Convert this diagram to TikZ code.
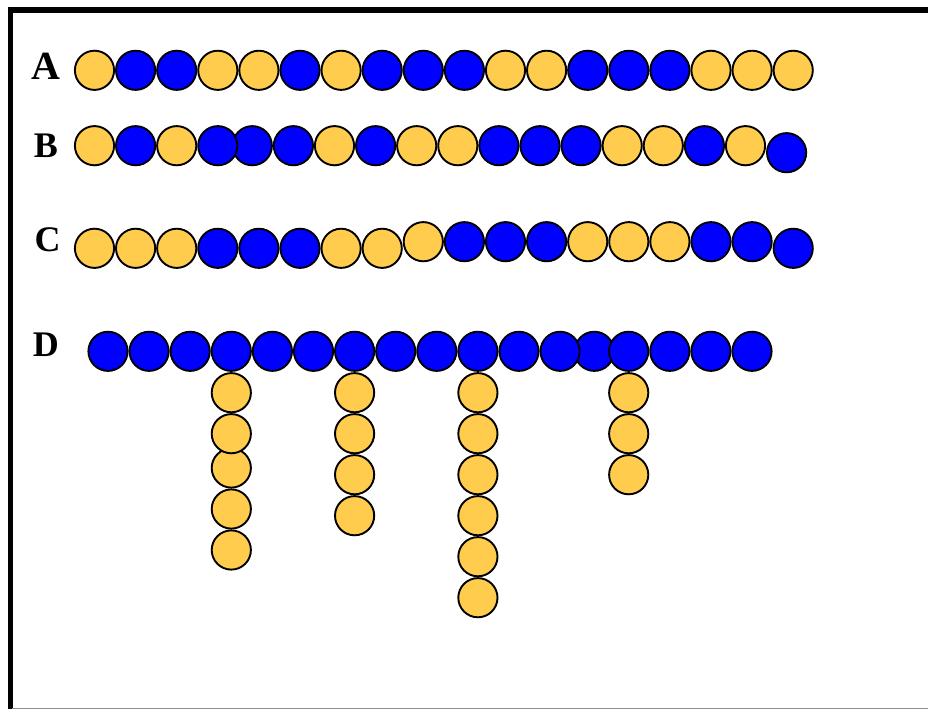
\documentclass[tikz,border=0pt]{standalone}
\usepackage{fontspec}
\setmainfont{Liberation Serif}
\usepackage{xcolor}
\usepackage{tikz}
\usetikzlibrary{positioning}
\definecolor{beady}{HTML}{FFCC4D}
\definecolor{beadb}{HTML}{0000FF}
\definecolor{edgegray}{HTML}{8C8C8C}

\begin{document}
\begin{tikzpicture}[x=1pt, y=-1pt,
  bead/.style={circle, draw=black, line width=1.9pt, fill=bead#1,
               minimum size=39.2pt, inner sep=0pt},
  rowlabel/.style={font=\bfseries\fontsize{#1}{#1}\selectfont, inner sep=0pt}]
  \useasboundingbox (0,0) rectangle (928,709);
  \draw[line width=5.4pt] (10.2,709) -- (10.2,10) -- (928,10);
  \draw[edgegray, line width=1pt] (12,708.4) -- (928,708.4);

  \node[rowlabel=40] (labA) at (45.5,65.8) {A};
  \node[rowlabel=36] (labB) at (46,145.3) {B};
  \node[rowlabel=36] (labC) at (47.5,240) {C};
  \node[rowlabel=36] (labD) at (45.8,345) {D};

  \foreach \col [count=\i] in {y,b,b,y,y,b,y,b,b,b,y,y,b,b,b,y,y,y}
    \node[bead=\col] (a\i) at ({94.5+41.1*(\i-1)},70.3) {};

  % bead 5 of B goes first, bead 4 lies over it
  \node[bead=b] (b5) at (252.3,145.7) {};
  \foreach \col [count=\i] in {y,b,y,b,b,b,y,b,y,y,b,b,b,y,y,b,y,b}
    {\ifnum\i=5\else
       \node[bead=\col] (b\i) at ({94.5+41.1*(\i-1)-6.6*(\i>5)},{145.7+7*(\i>17)}) {};
     \fi}

  \foreach \col [count=\i] in {y,y,y,b,b,b,y,y,y,b,b,b,y,y,y,b,b,b}
    \node[bead=\col] (c\i) at ({94.5+41.1*(\i-1)},{248.3-6.6*(\i>8)*(\i<18)}) {};

  % bead 13 of D is squeezed in under its neighbours
  \node[bead=b] (d13) at (594.3,351.3) {};
  \foreach \i in {1,...,17}
    {\ifnum\i=13\else
       \node[bead=b] (d\i) at ({108+41.1*(\i-1)-13.6*(\i>13)},351.3) {};
     \fi}

  % side chains hanging from d4, d7, d10 and d14
  \foreach \k/\n in {4/5,7/4,10/6,14/3}
    \foreach \j in {\n,...,1}
      \node[bead=y] (d\k-\j) at ([yshift={-41.4-41*(\j-1)+6.7*(\j>2)*(\k==4)}]d\k.center) {};
\end{tikzpicture}
\end{document}
